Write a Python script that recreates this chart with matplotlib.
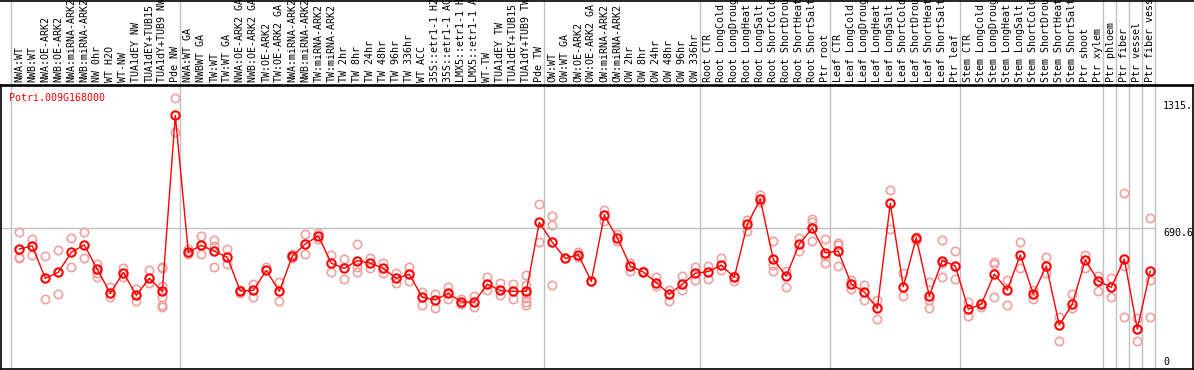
import numpy as np
import matplotlib.pyplot as plt
from matplotlib.lines import Line2D

# sample labels, left to right
labels = [
    "NWA:WT", "NWB:WT", "NWA:OE-ARK2", "NWB:OE-ARK2", "NWA:miRNA-ARK2", "NWB:miRNA-ARK2",
    "NW 0hr", "WT H2O", "WT-NW", "TUA1dEY NW", "TUA1dEY+TUB15", "TUA1dY+TUB9 NW", "Pde NW",
    "NWA:WT GA", "NWBWT GA", "TW:WT", "TW:WT GA", "NWA:OE-ARK2 GA", "NWB:OE-ARK2 GA",
    "TW:OE-ARK2", "TW:OE-ARK2 GA", "NWA:miRNA-ARK2", "NWB:miRNA-ARK2", "TW:miRNA-ARK2",
    "TW:miRNA-ARK2", "TW 2hr", "TW 8hr", "TW 24hr", "TW 48hr", "TW 96hr", "TW 336hr",
    "WT ACC", "35S::etr1-1 H2O", "35S::etr1-1 ACC", "LMX5::etr1-1 H2O", "LMX5::etr1-1 ACC",
    "WT-TW", "TUA1dEY TW", "TUA1dEY+TUB15 TW", "TUA1dY+TUB9 TW", "Pde TW",
    "OW:WT", "OW:WT GA", "OW:OE-ARK2", "OW:OE-ARK2 GA", "OW:miRNA-ARK2", "OW:miRNA-ARK2",
    "OW 2hr", "OW 8hr", "OW 24hr", "OW 48hr", "OW 96hr", "OW 336hr",
    "Root CTR", "Root LongCold", "Root LongDrought", "Root LongHeat", "Root LongSalt",
    "Root ShortCold", "Root ShortDrought", "Root ShortHeat", "Root ShortSalt", "Ptr root",
    "Leaf CTR", "Leaf LongCold", "Leaf LongDrought", "Leaf LongHeat", "Leaf LongSalt",
    "Leaf ShortCold", "Leaf ShortDrought", "Leaf ShortHeat", "Leaf ShortSalt", "Ptr leaf",
    "Stem CTR", "Stem LongCold", "Stem LongDrought", "Stem LongHeat", "Stem LongSalt",
    "Stem ShortCold", "Stem ShortDrought", "Stem ShortHeat", "Stem ShortSalt",
    "Ptr shoot", "Ptr xylem", "Ptr phloem", "Ptr fiber", "Ptr vessel", "Ptr fiber vessel",
]

# first index of each group (separator lines)
group_starts = [0, 13, 41, 53, 63, 73, 84, 85, 86, 87, 88]

means = [
    589, 604, 445, 475, 573, 609, 489, 372, 473, 362, 445, 381, 1245,
    573, 607, 578, 548, 383, 386, 484, 381, 553, 614, 653, 519, 494, 532, 520, 494, 445,
    465, 352, 339, 372, 329, 329, 416, 386, 381, 381, 720,
    622, 543, 561, 430, 754, 644, 506, 476, 424, 368, 416, 470,
    478, 510, 450, 710, 833, 538, 456, 614, 691, 571,
    578, 417, 378, 298, 813, 404, 644, 358, 532, 506,
    294, 318, 466, 388, 560, 368, 506, 216, 318, 535, 432,
    401, 540, 196, 481,
]

reps = [
    [671, 548, 543], [638, 558], [553, 342], [583, 368], [643, 501], [671, 543],
    [514, 470, 453], [404, 352], [497, 453], [391, 335], [484, 424],
    [502, 494, 407, 352, 314, 303], [1329, 1162],
    [587, 564], [653, 563], [633, 604, 499], [589, 514], [388, 374], [417, 352], [499],
    [426, 334], [563, 543], [663, 564], [669, 638], [560, 477], [540, 440],
    [614, 502, 477], [543, 494], [519, 473], [473, 421], [499, 433], [376, 314],
    [368, 298], [402, 344], [342, 319], [358, 303], [450, 386], [424, 365], [417, 345],
    [461, 412, 372, 347, 330, 314], [808, 625],
    [749, 705, 411], [543], [573, 551], [430], [780, 728], [663, 628], [522, 481],
    [480], [453, 409], [388, 332], [455, 388], [502, 437],
    [506, 442], [543, 486], [456, 432], [731, 677], [854, 820], [627, 512, 479],
    [482, 401], [644, 581], [735, 723, 628], [637, 555, 519],
    [620, 609, 506], [437, 391], [412, 339], [339, 244], [879, 686], [470, 358],
    [649, 633], [426, 339, 298], [633, 522, 450], [578, 440],
    [330, 262], [325, 303], [527, 515, 355], [437, 314], [622, 494], [388, 342],
    [548, 470], [257, 137], [368, 298], [560, 494], [456, 383],
    [445, 352], [862, 506, 254], [249, 137], [740, 435, 254],
]

gene = "Potri.009G168000"
mid_val = 690.6
top_val = 1315

W, H = 1194, 370
fig = plt.figure(figsize=(W / 100, H / 100), dpi=100)
ax = fig.add_axes([1 / W, 1 / H, 1192 / W, 284 / H])

x0, dx = 19.3, 13.0
ax.set_xlim((1 - x0) / dx, (1193 - x0) / dx)
ax.set_ylim(0, 284 * mid_val / 140.7)
ax.set_xticks([])
ax.set_yticks([])
for s in ax.spines.values():
    s.set_color("black")
    s.set_linewidth(1.2)

mono = "DejaVu Sans Mono"
gray = "#c0c0c0"
trans = ax.get_xaxis_transform()

# group separators, running through the label band
for g in group_starts:
    ax.plot([g - 0.65, g - 0.65], [0, 1.3], transform=trans, color=gray,
            lw=1, clip_on=False, zorder=1)

ax.hlines(mid_val, ax.get_xlim()[0], len(labels) - 0.65, color=gray, lw=1, zorder=1)

# label band borders
fig.add_artist(Line2D([0, 1], [1 - 85.5 / H] * 2, color="black", lw=1.2))
fig.add_artist(Line2D([0, 1], [1 - 0.5 / H] * 2, color="black", lw=1.2))

idx = np.arange(len(labels))
for i, lab in enumerate(labels):
    ax.text(i, 1.01, lab, transform=trans, rotation=90, ha="center", va="bottom",
            family=mono, fontsize=7.2, clip_on=False)

rx = [i for i, r in enumerate(reps) for _ in r]
ry = [v for r in reps for v in r]
ax.plot(rx, ry, "o", ms=6, mfc="none", mec="#f0a0a0", mew=1.2, zorder=2)
ax.plot(idx, means, "-", color="red", lw=1, zorder=3)
ax.plot(idx, means, "o", ms=6, mfc="none", mec="red", mew=1.5, zorder=4)

ax.text(8.3 / 1192, 1 - 8 / 284, gene, transform=ax.transAxes, color="red",
        family=mono, fontsize=7.2, va="top", ha="left")

xr = (1163 - x0) / dx
ax.text(xr, top_val, "1315.", family=mono, fontsize=7.2, va="top", ha="left")
ax.text(xr, mid_val, "690.6", family=mono, fontsize=7.2, va="top", ha="left")
ax.text(xr, 10, "0", family=mono, fontsize=7.2, va="bottom", ha="left")

fig.savefig("out.png", dpi=100)
